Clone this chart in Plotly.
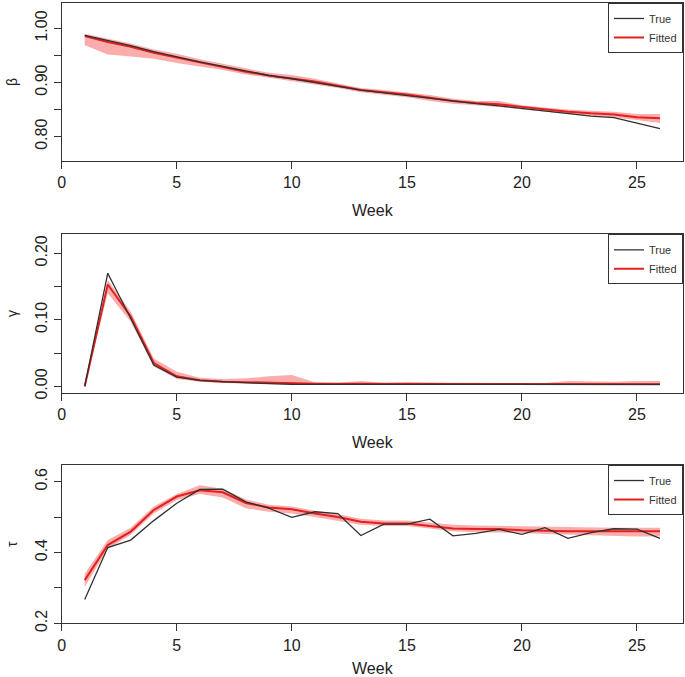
import plotly.graph_objects as go

weeks = list(range(1, 27))

beta_true = [0.987, 0.978, 0.968, 0.957, 0.947, 0.938, 0.930, 0.921, 0.913, 0.907, 0.900, 0.893, 0.886,
             0.881, 0.876, 0.870, 0.865, 0.861, 0.857, 0.852, 0.847, 0.843, 0.838, 0.835, 0.825, 0.815]
beta_fit = [0.986, 0.975, 0.966, 0.955, 0.946, 0.937, 0.929, 0.920, 0.913, 0.908, 0.902, 0.894, 0.886,
            0.882, 0.878, 0.872, 0.866, 0.862, 0.860, 0.855, 0.850, 0.846, 0.843, 0.841, 0.836, 0.834]
beta_lo = [0.969, 0.952, 0.948, 0.944, 0.936, 0.930, 0.923, 0.915, 0.909, 0.903, 0.897, 0.890, 0.882,
           0.878, 0.873, 0.866, 0.861, 0.858, 0.855, 0.850, 0.846, 0.842, 0.838, 0.836, 0.830, 0.825]
beta_hi = [0.990, 0.981, 0.972, 0.961, 0.953, 0.943, 0.935, 0.926, 0.918, 0.914, 0.907, 0.898, 0.890,
           0.886, 0.882, 0.877, 0.870, 0.866, 0.866, 0.858, 0.854, 0.850, 0.848, 0.846, 0.842, 0.842]

gamma_true = [0.000, 0.170, 0.102, 0.032, 0.014, 0.009, 0.007, 0.005, 0.004, 0.003, 0.003, 0.003, 0.003,
              0.003, 0.003, 0.003, 0.003, 0.003, 0.003, 0.003, 0.003, 0.003, 0.003, 0.003, 0.003, 0.003]
gamma_fit = [0.000, 0.153, 0.105, 0.035, 0.015, 0.009, 0.007, 0.006, 0.005, 0.005, 0.004, 0.004, 0.004,
             0.003, 0.003, 0.003, 0.003, 0.003, 0.003, 0.003, 0.003, 0.003, 0.003, 0.003, 0.003, 0.003]
gamma_lo = [0.000, 0.140, 0.097, 0.030, 0.011, 0.007, 0.005, 0.004, 0.003, 0.003, 0.002, 0.002, 0.002,
            0.002, 0.002, 0.002, 0.002, 0.002, 0.002, 0.002, 0.002, 0.002, 0.002, 0.002, 0.002, 0.002]
gamma_hi = [0.002, 0.160, 0.112, 0.042, 0.022, 0.013, 0.011, 0.012, 0.015, 0.017, 0.006, 0.005, 0.008,
            0.005, 0.006, 0.005, 0.005, 0.005, 0.005, 0.005, 0.005, 0.008, 0.007, 0.007, 0.008, 0.008]

tau_true = [0.267, 0.414, 0.435, 0.490, 0.539, 0.578, 0.579, 0.543, 0.525, 0.499, 0.515, 0.510, 0.448,
            0.480, 0.480, 0.494, 0.447, 0.454, 0.465, 0.451, 0.470, 0.440, 0.456, 0.467, 0.466, 0.440]
tau_fit = [0.322, 0.421, 0.459, 0.520, 0.558, 0.576, 0.570, 0.540, 0.527, 0.522, 0.510, 0.500, 0.487,
           0.482, 0.482, 0.475, 0.468, 0.466, 0.466, 0.463, 0.461, 0.460, 0.460, 0.460, 0.460, 0.460]
tau_lo = [0.303, 0.410, 0.450, 0.510, 0.548, 0.565, 0.555, 0.525, 0.515, 0.510, 0.500, 0.490, 0.478,
          0.475, 0.475, 0.468, 0.460, 0.457, 0.457, 0.455, 0.452, 0.450, 0.449, 0.448, 0.445, 0.445]
tau_hi = [0.340, 0.435, 0.470, 0.530, 0.565, 0.590, 0.580, 0.550, 0.535, 0.530, 0.518, 0.508, 0.495,
          0.490, 0.490, 0.485, 0.478, 0.476, 0.475, 0.472, 0.471, 0.470, 0.470, 0.470, 0.470, 0.470]

panels = [
    dict(name="β", true=beta_true, fit=beta_fit, lo=beta_lo, hi=beta_hi,
         yrange=[0.755, 1.047], tickvals=[0.80, 0.85, 0.90, 0.95, 1.00],
         ticktext=["0.80", "", "0.90", "", "1.00"], dom=[0.7622, 0.9956]),
    dict(name="γ", true=gamma_true, fit=gamma_fit, lo=gamma_lo, hi=gamma_hi,
         yrange=[-0.0095, 0.2285], tickvals=[0.00, 0.05, 0.10, 0.15, 0.20],
         ticktext=["0.00", "", "0.10", "", "0.20"], dom=[0.4200, 0.6539]),
    dict(name="τ", true=tau_true, fit=tau_fit, lo=tau_lo, hi=tau_hi,
         yrange=[0.2, 0.647], tickvals=[0.2, 0.3, 0.4, 0.5, 0.6],
         ticktext=["0.2", "", "0.4", "", "0.6"], dom=[0.0793, 0.3131]),
]

BAND = "rgba(245,40,40,0.38)"
RED = "#e3201e"
DARK = "#303030"
FONT = "Liberation Sans, Arial, sans-serif"

traces = []
layout = dict(
    width=685, height=677, paper_bgcolor="white", plot_bgcolor="white",
    margin=dict(l=0, r=0, t=0, b=0), font=dict(family=FONT, color="#222", size=16),
)

for i, p in enumerate(panels):
    n = "" if i == 0 else str(i + 1)
    xa, ya = "x" + n, "y" + n
    leg = "legend" + n
    traces.append(go.Scatter(x=weeks, y=p["lo"], xaxis=xa, yaxis=ya, mode="lines",
                             line=dict(width=0, color=BAND), showlegend=False, hoverinfo="skip"))
    traces.append(go.Scatter(x=weeks, y=p["hi"], xaxis=xa, yaxis=ya, mode="lines", fill="tonexty",
                             fillcolor=BAND, line=dict(width=0, color=BAND), showlegend=False,
                             hoverinfo="skip"))
    traces.append(go.Scatter(x=weeks, y=p["fit"], xaxis=xa, yaxis=ya, mode="lines", name="Fitted",
                             line=dict(color=RED, width=2), legend=leg, legendrank=2))
    traces.append(go.Scatter(x=weeks, y=p["true"], xaxis=xa, yaxis=ya, mode="lines", name="True",
                             line=dict(color=DARK, width=1.3), legend=leg, legendrank=1))

    layout["xaxis" + n] = dict(
        domain=[0.0901, 0.9971], anchor=ya, range=[0, 27],
        tickvals=[0, 5, 10, 15, 20, 25], ticks="outside", ticklen=7, tickwidth=1,
        tickcolor="#333", showline=True, mirror=True, linecolor="#333", linewidth=1,
        showgrid=False, zeroline=False, tickfont=dict(size=16, color="#222"),
        title=dict(text="Week", font=dict(size=16, color="#222"), standoff=14),
        automargin=False,
    )
    layout["yaxis" + n] = dict(
        domain=p["dom"], anchor=xa, range=p["yrange"],
        tickvals=p["tickvals"], ticktext=p["ticktext"], tickangle=-90,
        ticks="outside", ticklen=7, tickwidth=1, tickcolor="#333",
        showline=True, mirror=True, linecolor="#333", linewidth=1,
        showgrid=False, zeroline=False, tickfont=dict(size=16, color="#222"),
        title=dict(text=p["name"], font=dict(size=14, color="#222"), standoff=12),
        automargin=False,
    )
    layout[leg] = dict(
        x=0.9971, xanchor="right", xref="paper", y=p["dom"][1], yanchor="top", yref="paper",
        bgcolor="white", bordercolor="#333", borderwidth=1, traceorder="normal",
        font=dict(size=11, color="#333"), tracegroupgap=0, itemwidth=30,
    )

fig = go.Figure(data=traces)
fig.update_layout(**layout)
fig.write_html(
    "out.html",
    config={"displayModeBar": False},
    post_script="document.body.style.margin='0';document.body.style.padding='0';"
                "document.body.style.overflow='hidden';",
)
